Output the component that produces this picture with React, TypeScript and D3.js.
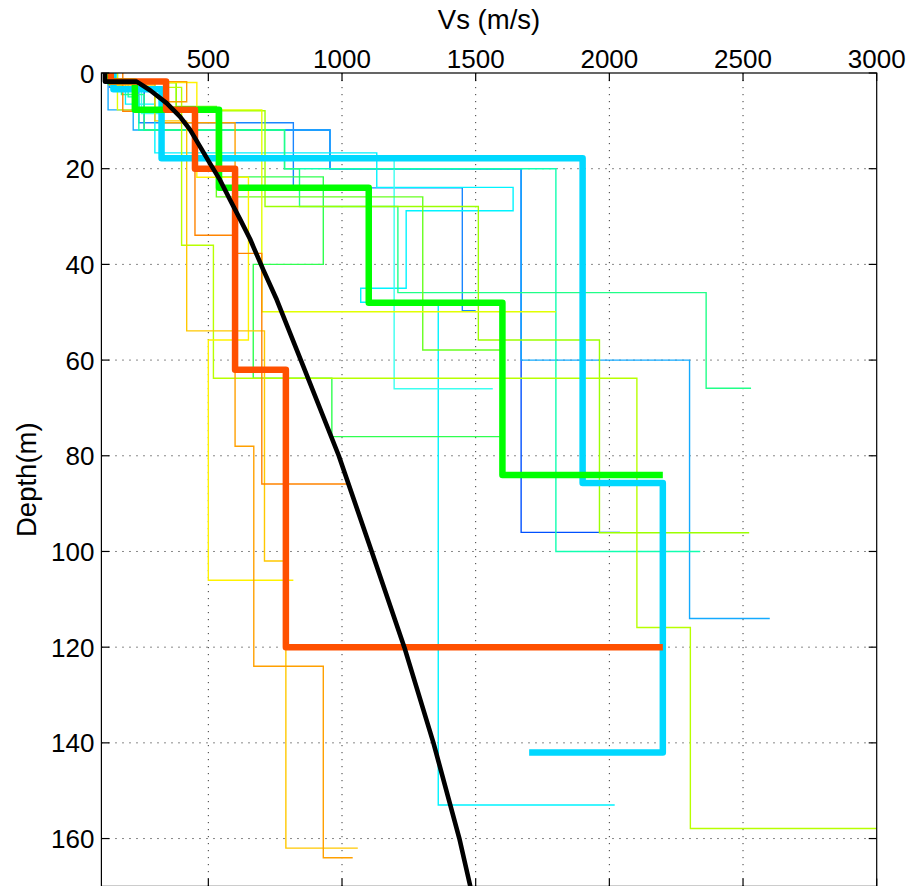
import React from 'react';
import * as d3 from 'd3';

// Axis ticks
const xTickValues = [500, 1000, 1500, 2000, 2500, 3000];
const yTickValues = [0, 20, 40, 60, 80, 100, 120, 140, 160];

// Reference gradient profile (velocity m/s, depth m)
const refVs = [113, 113, 232, 282, 344, 394, 432, 469, 506, 544, 581, 619, 656, 706, 756, 846, 988, 1111, 1233, 1342, 1439, 1480];
const refDepth = [0, 1.8, 1.8, 3.6, 6.3, 9.1, 11.9, 15.4, 18.9, 22.4, 26.5, 30.6, 34.7, 41.2, 47.4, 60, 80, 100, 120, 140, 160, 170];

// Layered profiles: layer velocities and interface depths
const vsB2 = [150, 260, 955, 1670, 2040];
const zB2 = [3, 11.9, 20, 96];
const vsB1 = [130, 240, 818, 1450, 1500];
const zB1 = [3, 10.4, 24, 49.7];
const vsP1 = [125, 219, 955, 1670, 2300, 2600];
const zP1 = [7.7, 11.9, 20, 60, 114];
const vsC1 = [130, 190, 300, 1130, 1640, 1240, 1070, 1360, 2020];
const zC1 = [2, 6.5, 16.7, 23.9, 28.8, 45, 47.9, 153];
const vsC3 = [160, 250, 330, 1195, 1564];
const zC3 = [3.5, 8.5, 17.9, 66];
const vsS1 = [150, 200, 240, 785, 1800, 2340];
const zS1 = [2, 5, 11.9, 20, 100];
const vsS2 = [140, 175, 260, 785, 841, 1209, 2362, 2530];
const zS2 = [2.5, 4.5, 11.9, 20, 27.9, 45.9, 65.9];
const vsG2 = [140, 300, 531, 930, 668, 962, 1590];
const zG2 = [2, 8, 21.7, 40, 63.8, 76];
const vsG3 = [160, 380, 530, 1302, 1600];
const zG3 = [2, 7, 25.9, 57.9];
const vsYG2 = [150, 380, 712, 1510, 1963, 2523];
const zYG2 = [2, 7.9, 27.9, 55.8, 96.1];
const vsYG1 = [150, 400, 519, 2103, 2303, 3000];
const zYG1 = [3, 36, 63.8, 115.9, 157.9];
const vsYL3 = [160, 700, 1800];
const zYL3 = [7.7, 49.9];
const vsYL1 = [150, 457, 650, 500, 818];
const zYL1 = [2, 21.8, 55.8, 106];
const vsGD1 = [130, 300, 419, 710, 790, 1059];
const zGD1 = [2.5, 10, 53.9, 102, 162];
const vsOR1 = [130, 419, 319, 600, 670, 930, 1040];
const zOR1 = [1.8, 6, 10.4, 78, 124, 164];
const vsOR2 = [180, 450, 600, 700, 1030];
const zOR2 = [8, 33.9, 37.7, 85.9];

// Bold profiles
const vsCyanBold = [145, 325, 1900, 2200, 1700];
const zCyanBold = [3.4, 17.8, 85.7, 142];
const vsGreenBold = [130, 225, 540, 1100, 1600, 2200];
const zGreenBold = [1.8, 7.7, 24, 48, 84];
const vsOrangeBold = [135, 342, 450, 600, 790, 2200];
const zOrangeBold = [1.8, 7.7, 20, 62, 120];

const thinProfiles = [
  { vs: vsB2, z: zB2, color: '#0050ff' },
  { vs: vsB1, z: zB1, color: '#1a86ff' },
  { vs: vsP1, z: zP1, color: '#14aaff' },
  { vs: vsC1, z: zC1, color: '#00f4ff' },
  { vs: vsC3, z: zC3, color: '#3cfff0' },
  { vs: vsS1, z: zS1, color: '#10ffb0' },
  { vs: vsS2, z: zS2, color: '#20ff88' },
  { vs: vsG2, z: zG2, color: '#30ff50' },
  { vs: vsG3, z: zG3, color: '#68ff20' },
  { vs: vsYG2, z: zYG2, color: '#9cff00' },
  { vs: vsYG1, z: zYG1, color: '#b8ff00' },
  { vs: vsYL3, z: zYL3, color: '#e2ff00' },
  { vs: vsYL1, z: zYL1, color: '#fff200' },
  { vs: vsGD1, z: zGD1, color: '#ffc800' },
  { vs: vsOR1, z: zOR1, color: '#ffa000' },
  { vs: vsOR2, z: zOR2, color: '#ff8400' },
];

const boldProfiles = [
  { vs: vsCyanBold, z: zCyanBold, color: '#00d8ff' },
  { vs: vsGreenBold, z: zGreenBold, color: '#00ff00' },
  { vs: vsOrangeBold, z: zOrangeBold, color: '#ff5000' },
];

const W = 913;
const H = 886;
const plot = { left: 101.4, right: 876.7, top: 73, bottom: 886.4 };

const x = d3.scaleLinear().domain([100, 3000]).range([plot.left, plot.right]);
const y = d3.scaleLinear().domain([0, 170]).range([plot.top, plot.bottom]);

// Turn layer velocities + interface depths into a staircase polyline
function stepPoints(vs: number[], z: number[]): [number, number][] {
  const pts: [number, number][] = [[vs[0], 0]];
  for (let i = 0; i < z.length; i++) {
    pts.push([vs[i], z[i]]);
    pts.push([vs[i + 1], z[i]]);
  }
  return pts;
}

const line = d3
  .line<[number, number]>()
  .x((d) => x(d[0]))
  .y((d) => y(d[1]));

const FONT = '"Liberation Sans", Arial, Helvetica, sans-serif';

export default function App() {
  const refPts: [number, number][] = refVs.map((v, i) => [v, refDepth[i]]);
  const tickLen = 8;
  return (
    <svg
      width={W}
      height={H}
      viewBox={`0 0 ${W} ${H}`}
      style={{ position: 'absolute', left: 0, top: 0, background: '#fff' }}
    >
      <defs>
        <clipPath id="plot-clip">
          <rect x={plot.left} y={plot.top} width={plot.right - plot.left} height={plot.bottom - plot.top} />
        </clipPath>
      </defs>
      <rect x={0} y={0} width={W} height={H} fill="#fff" />

      {/* dotted grid */}
      <g stroke="#3a3a3a" strokeWidth={1} strokeDasharray="1.2 5.8" fill="none">
        {xTickValues
          .filter((t) => t < 3000)
          .map((t) => (
            <line key={`gx${t}`} x1={x(t)} x2={x(t)} y1={plot.top} y2={plot.bottom} />
          ))}
        {yTickValues
          .filter((t) => t > 0)
          .map((t) => (
            <line key={`gy${t}`} x1={plot.left} x2={plot.right} y1={y(t)} y2={y(t)} />
          ))}
      </g>

      <g clipPath="url(#plot-clip)" fill="none">
        {thinProfiles.map((p, i) => (
          <path
            key={`t${i}`}
            d={line(stepPoints(p.vs, p.z)) || ''}
            stroke={p.color}
            strokeWidth={1.4}
            strokeLinejoin="miter"
          />
        ))}
        {boldProfiles.map((p, i) => (
          <path
            key={`b${i}`}
            d={line(stepPoints(p.vs, p.z)) || ''}
            stroke={p.color}
            strokeWidth={6.5}
            strokeLinejoin="round"
          />
        ))}
        <path d={line(refPts) || ''} stroke="#000" strokeWidth={4.6} strokeLinejoin="round" />
      </g>

      {/* axes box and ticks */}
      <rect
        x={plot.left}
        y={plot.top}
        width={plot.right - plot.left}
        height={plot.bottom - plot.top}
        fill="none"
        stroke="#000"
        strokeWidth={1.2}
      />
      <g stroke="#000" strokeWidth={1.2}>
        {xTickValues.map((t) => (
          <g key={`tx${t}`}>
            <line x1={x(t)} x2={x(t)} y1={plot.top} y2={plot.top + tickLen} />
            <line x1={x(t)} x2={x(t)} y1={plot.bottom} y2={plot.bottom - tickLen} />
          </g>
        ))}
        {yTickValues.map((t) => (
          <g key={`ty${t}`}>
            <line x1={plot.left} x2={plot.left + tickLen} y1={y(t)} y2={y(t)} />
            <line x1={plot.right} x2={plot.right - tickLen} y1={y(t)} y2={y(t)} />
          </g>
        ))}
      </g>

      <g fontFamily={FONT} fontSize={26} fill="#000">
        {xTickValues.map((t) => (
          <text key={`lx${t}`} x={x(t)} y={plot.top - 5} textAnchor="middle">
            {t}
          </text>
        ))}
        {yTickValues.map((t) => (
          <text key={`ly${t}`} x={plot.left - 7} y={y(t) + 9.5} textAnchor="end">
            {t}
          </text>
        ))}
      </g>

      <text
        x={(plot.left + plot.right) / 2}
        y={28.5}
        textAnchor="middle"
        fontFamily={FONT}
        fontSize={27.5}
        fill="#000"
      >
        Vs (m/s)
      </text>
      <text
        transform={`translate(36, ${(plot.top + plot.bottom) / 2}) rotate(-90)`}
        textAnchor="middle"
        fontFamily={FONT}
        fontSize={27.5}
        fill="#000"
      >
        Depth(m)
      </text>
    </svg>
  );
}
